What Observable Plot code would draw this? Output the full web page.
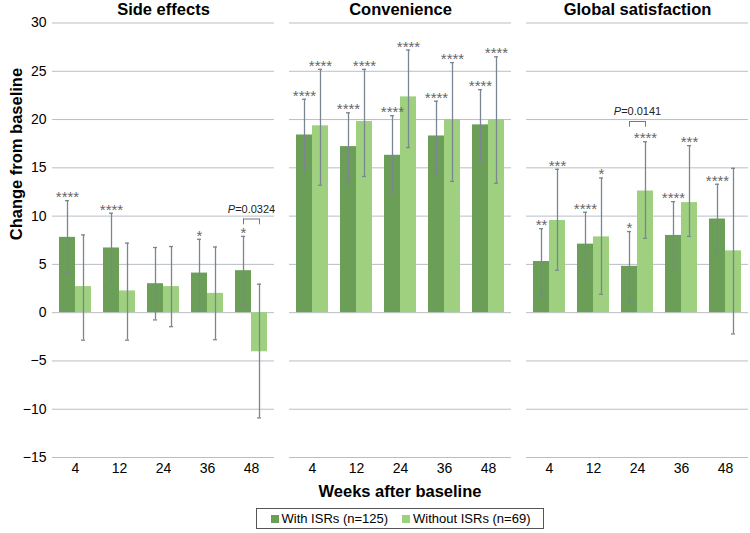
<!DOCTYPE html>
<html>
<head>
<meta charset="utf-8">
<script src="https://cdn.jsdelivr.net/npm/d3@7"></script>
<script src="https://cdn.jsdelivr.net/npm/@observablehq/plot@0.6"></script>
<style>
  html, body { margin: 0; padding: 0; background: #fff; }
  body { width: 750px; height: 533px; font-family: "Liberation Sans", Arial, sans-serif; overflow: hidden; }
  #xtitle { width: 696px; margin-left: 52px; text-align: center; font-weight: bold; font-size: 16.5px; line-height: 20px; margin-top: 1px; color: #000; }
  #legendwrap { width: 696px; margin-left: 52px; display: flex; justify-content: center; margin-top: 7px; }
  .legend { display: inline-flex; align-items: center; border: 1px solid #555; height: 19px; padding: 0 13px 0 14px; font-size: 13px; color: #000; }
  .legend .sw { width: 8px; height: 8px; display: inline-block; margin-right: 3px; }
  .legend .item { display: inline-flex; align-items: center; }
  .legend .item + .item { margin-left: 14px; }
</style>
</head>
<body>
<div id="chart"></div>
<div id="xtitle">Weeks after baseline</div>
<div id="legendwrap"><div class="legend" id="legend"></div></div>
<script>
// ---- data ----
const panels = ["Side effects", "Convenience", "Global satisfaction"];
const weeks = ["4", "12", "24", "36", "48"];
const seriesNames = ["With ISRs (n=125)", "Without ISRs (n=69)"];
const seriesColors = ["#6b9f58", "#9fd07f"];
const yTicks = [-15, -10, -5, 0, 5, 10, 15, 20, 25, 30];

// With ISRs: mean, lower and upper ends of error bars, per panel
const withMean = [
  [7.8, 6.7, 3.0, 4.1, 4.35],
  [18.4, 17.2, 16.3, 18.3, 19.45],
  [5.3, 7.1, 4.8, 8.0, 9.7]
];
const withLow = [
  [4.15, 3.2, -0.75, 0.5, 0.8],
  [14.65, 13.5, 12.3, 14.2, 15.6],
  [1.9, 3.9, 1.0, 4.5, 6.3]
];
const withHigh = [
  [11.6, 10.3, 6.75, 7.6, 7.9],
  [22.1, 20.7, 20.4, 21.9, 23.1],
  [8.7, 10.4, 8.4, 11.5, 13.3]
];
const withStars = [
  ["****", "****", "", "*", "*"],
  ["****", "****", "****", "****", "****"],
  ["**", "****", "*", "****", "****"]
];

// Without ISRs
const withoutMean = [
  [2.7, 2.25, 2.7, 2.0, -4.05],
  [19.35, 19.8, 22.35, 20.0, 20.0],
  [9.55, 7.85, 12.6, 11.4, 6.4]
];
const withoutLow = [
  [-2.85, -2.85, -1.45, -2.8, -10.9],
  [13.2, 14.1, 17.1, 13.6, 13.4],
  [4.4, 1.9, 7.7, 7.9, -2.2]
];
const withoutHigh = [
  [8.05, 7.2, 6.85, 6.8, 2.95],
  [25.2, 25.2, 27.2, 25.9, 26.5],
  [14.85, 13.95, 17.7, 17.3, 14.95]
];
const withoutStars = [
  ["", "", "", "", ""],
  ["****", "****", "****", "****", "****"],
  ["***", "*", "****", "***", ""]
];

// P-value brackets between groups
const bracketPanels = ["Side effects", "Global satisfaction"];
const bracketWeeks = ["48", "24"];
const bracketLevels = [9.7, 19.8];
const bracketLabels = ["P=0.0324", "P=0.0141"];

// ---- build tables ----
const withData = [], withoutData = [];
panels.forEach((p, i) => weeks.forEach((w, j) => {
  withData.push({panel: p, week: w, mean: withMean[i][j], lo: withLow[i][j], hi: withHigh[i][j], star: withStars[i][j]});
  withoutData.push({panel: p, week: w, mean: withoutMean[i][j], lo: withoutLow[i][j], hi: withoutHigh[i][j], star: withoutStars[i][j]});
}));
const brackets = bracketPanels.map((p, i) => ({panel: p, week: bracketWeeks[i], y: bracketLevels[i], label: bracketLabels[i]}));

const errColor = "#7b8693";
const starColor = "#666";
const half = 8;

const chart = Plot.plot({
  width: 750,
  height: 480,
  marginLeft: 52,
  marginRight: 2,
  marginTop: 22.5,
  marginBottom: 23,
  style: {fontFamily: "'Liberation Sans', Arial, sans-serif", fontSize: "14px", color: "#000", background: "#fff", overflow: "visible"},
  fx: {domain: panels, paddingInner: 0.0633, paddingOuter: 0, axis: null, label: null},
  x: {domain: weeks, paddingInner: 0.28, paddingOuter: 0.14, label: null},
  y: {domain: [-15, 30], label: null},
  marks: [
    Plot.gridY(yTicks, {stroke: "#b9bec4", strokeOpacity: 1, strokeWidth: 1}),
    Plot.axisY(yTicks, {tickSize: 0, tickPadding: 6, fontSize: 14, label: null}),
    Plot.axisX({tickSize: 0, tickPadding: 6, fontSize: 14, label: null}),
    Plot.barY(withData, {fx: "panel", x: "week", y: "mean", fill: seriesColors[0], insetRight: 16}),
    Plot.barY(withoutData, {fx: "panel", x: "week", y: "mean", fill: seriesColors[1], insetLeft: 16}),
    // error bars
    Plot.ruleX(withData, {fx: "panel", x: "week", y1: "lo", y2: "hi", dx: -half, stroke: errColor, strokeWidth: 1.3}),
    Plot.ruleX(withoutData, {fx: "panel", x: "week", y1: "lo", y2: "hi", dx: half, stroke: errColor, strokeWidth: 1.3}),
    Plot.tickY(withData, {fx: "panel", x: "week", y: "hi", insetLeft: 6, insetRight: 22, stroke: errColor, strokeWidth: 1.3}),
    Plot.tickY(withData, {fx: "panel", x: "week", y: "lo", insetLeft: 6, insetRight: 22, stroke: errColor, strokeWidth: 1.3}),
    Plot.tickY(withoutData, {fx: "panel", x: "week", y: "hi", insetLeft: 22, insetRight: 6, stroke: errColor, strokeWidth: 1.3}),
    Plot.tickY(withoutData, {fx: "panel", x: "week", y: "lo", insetLeft: 22, insetRight: 6, stroke: errColor, strokeWidth: 1.3}),
    // significance stars
    Plot.text(withData.filter(d => d.star), {fx: "panel", x: "week", y: "hi", text: "star", dx: -half, dy: 1.5, lineAnchor: "bottom", fill: starColor, fontSize: 15}),
    Plot.text(withoutData.filter(d => d.star), {fx: "panel", x: "week", y: "hi", text: "star", dx: half, dy: 1.5, lineAnchor: "bottom", fill: starColor, fontSize: 15}),
    // brackets
    Plot.tickY(brackets, {fx: "panel", x: "week", y: "y", insetLeft: half, insetRight: half, stroke: "#777", strokeWidth: 1}),
    Plot.ruleX(brackets, {fx: "panel", x: "week", y1: "y", y2: d => d.y - 0.6, dx: -half, stroke: "#777", strokeWidth: 1}),
    Plot.ruleX(brackets, {fx: "panel", x: "week", y1: "y", y2: d => d.y - 0.6, dx: half, stroke: "#777", strokeWidth: 1}),
    Plot.text(brackets, {fx: "panel", x: "week", y: "y", text: "label", dy: -10, fontSize: 11, fill: "#222"}),
    // panel titles
    Plot.text(panels, {fx: d => d, frameAnchor: "top", text: d => d, lineAnchor: "middle", dy: -13.5, fontWeight: "bold", fontSize: 16.5, fill: "#000"}),
    // y axis title (first panel only)
    Plot.text([panels[0]], {fx: d => d, frameAnchor: "left", text: () => "Change from baseline", rotate: -90, dx: -36, fontWeight: "bold", fontSize: 16.5, fill: "#000"})
  ]
});
document.getElementById("chart").appendChild(chart);

// italic P in p-value labels
chart.querySelectorAll("text").forEach(t => {
  const s = t.textContent;
  if (/^P=/.test(s) && t.children.length === 0) {
    t.textContent = "";
    const ns = "http://www.w3.org/2000/svg";
    const a = document.createElementNS(ns, "tspan");
    a.setAttribute("font-style", "italic");
    a.textContent = "P";
    const b = document.createElementNS(ns, "tspan");
    b.textContent = s.slice(1);
    t.appendChild(a); t.appendChild(b);
  }
});

// legend
const legend = document.getElementById("legend");
seriesNames.forEach((n, i) => {
  const item = document.createElement("span");
  item.className = "item";
  const sw = document.createElement("span");
  sw.className = "sw";
  sw.style.background = seriesColors[i];
  item.appendChild(sw);
  item.appendChild(document.createTextNode(n));
  legend.appendChild(item);
});
</script>
</body>
</html>
